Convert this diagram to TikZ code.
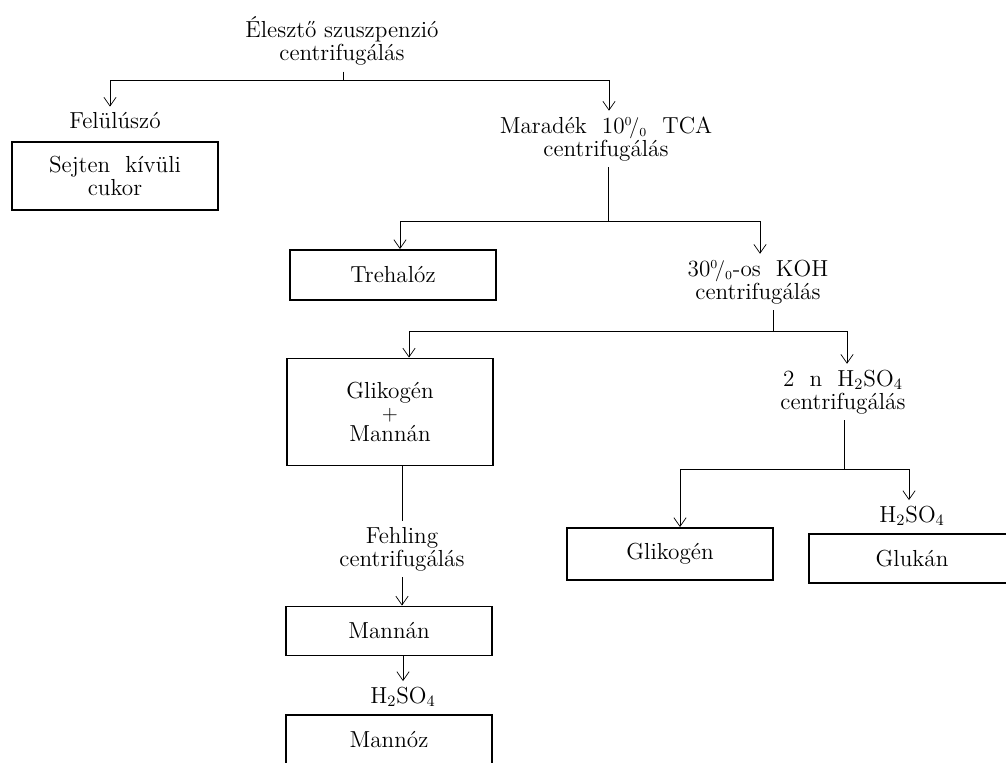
\documentclass[tikz,border=0pt]{standalone}
\usepackage{tikz}
\tikzstyle{box}=[draw, line width=1.1pt, minimum width=4.12cm, minimum height=1cm, align=center]
\tikzstyle{stage}=[align=center]
\tikzstyle{flow}=[thin,->]
\usetikzlibrary{arrows.meta,positioning}
\newcommand{\pct}{$^{\scriptscriptstyle 0}\!/_{\scriptscriptstyle 0}$}

\begin{document}
\begin{tikzpicture}[x=0.02cm,y=-0.02cm,>={Straight Barb[length=5pt,width=7pt]},
  every node/.style={font=\fontsize{13.2}{13.1}\selectfont}]
\clip (0,0) rectangle (1006,762);
% levels of the separation
\node (eleszto) [stage] at (342,41) {\'Eleszt\H{o} szuszpenzi\'o\\centrifug\'al\'as};
\node (felul) [stage] at (115,121) {Fel\"ul\'usz\'o};
\node (sejten) [box,minimum height=1.36cm,below=0.12cm of felul] {Sejten~ k\'iv\"uli\\cukor};
\node (maradek) [stage] at (606,139) {Marad\'ek~ 10\pct~ TCA\\centrifug\'al\'as};
\node (trehaloz) [box] at (393,275) {Trehal\'oz};
\node (koh) [stage] at (758,282) {30\pct-os~ KOH\\centrifug\'al\'as};
\node (glimann) [box,minimum height=2.14cm,text depth=0pt] at (390,412) {Glikog\'en\\[-1pt]$+$\\[-1pt]Mann\'an};
\node (kenyv) [stage] at (843,392) {2~ n~ H$_2$SO$_4$\\centrifug\'al\'as};
\node (glikogen) [box,minimum height=1.04cm] at (670,554) {Glikog\'en};
\node (hglukan) [stage] at (912,516) {H$_2$SO$_4$};
\node (glukan) [box,minimum height=0.98cm,below=0.02cm of hglukan] {Gluk\'an};
\node (fehling) [stage] at (402,549) {Fehling\\centrifug\'al\'as};
\node (mannan) [box,minimum height=0.98cm] at (389,631) {Mann\'an};
\node (hmannoz) [stage] at (403,697) {H$_2$SO$_4$};
\node (mannoz) [box,below=0.02cm of hmannoz.south -| mannan,anchor=north] {Mann\'oz};
% branching points
\coordinate (j1) at (343,80);
\coordinate (j1l) at (110,80);
\coordinate (j1r) at (609,80);
\coordinate (j2) at (608,221);
\coordinate (j2l) at (400,221);
\coordinate (j2r) at (760,221);
\coordinate (j3) at (773,331);
\coordinate (j3l) at (409,331);
\coordinate (j3r) at (847,331);
\coordinate (j4) at (844,469);
\coordinate (j4l) at (680,469);
\coordinate (j4r) at (909,469);
\path[-]
	(eleszto.south -| j1) edge (j1)
	(j1l) edge (j1r)
	(maradek.south -| j2) edge (j2)
	(j2l) edge (j2r)
	(koh.south -| j3) edge (j3)
	(j3l) edge (j3r)
	(kenyv.south -| j4) edge (j4)
	(j4l) edge (j4r)
	(glimann.south -| fehling) edge (fehling);
\path[flow]
	(j1l) edge (j1l |- felul.north)
	(j1r) edge (j1r |- maradek.north)
	(j2l) edge (j2l |- trehaloz.north)
	(j2r) edge (j2r |- koh.north)
	(j3l) edge (j3l |- glimann.north)
	(j3r) edge (j3r |- kenyv.north)
	(j4l) edge (j4l |- glikogen.north)
	(j4r) edge (j4r |- hglukan.north)
	(fehling) edge (fehling |- mannan.north)
	(mannan.south -| hmannoz) edge (hmannoz);
\end{tikzpicture}
\end{document}
